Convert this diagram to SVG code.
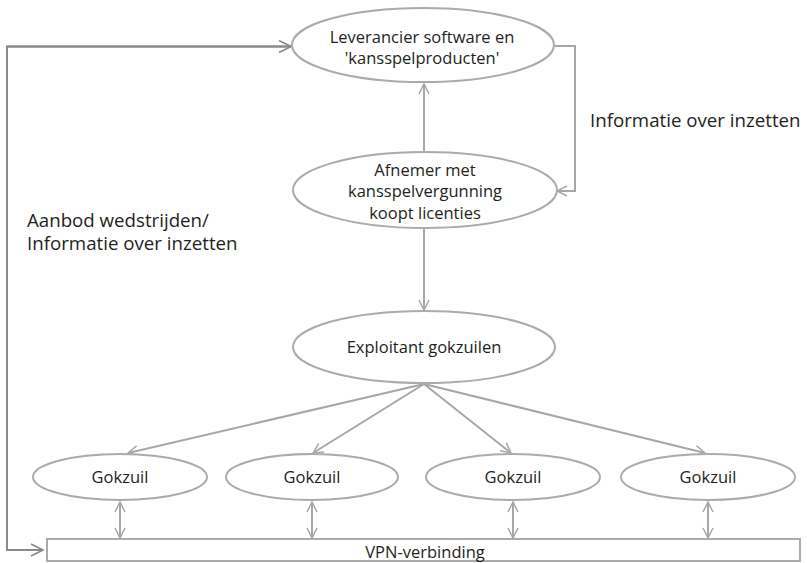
<svg xmlns="http://www.w3.org/2000/svg" width="807" height="563" viewBox="0 0 807 563">
<defs>
<marker id="ah" viewBox="0 0 12 12" refX="11" refY="6" markerWidth="12" markerHeight="12" markerUnits="userSpaceOnUse" orient="auto-start-reverse">
<path d="M1,1 L11,6 L1,11" fill="none" stroke="#a7a7a7" stroke-width="1.5"/>
</marker>
<marker id="ahd" viewBox="0 0 14 14" refX="13" refY="7" markerWidth="14" markerHeight="14" markerUnits="userSpaceOnUse" orient="auto">
<path d="M1,1 L13,7 L1,13" fill="none" stroke="#8a8a8a" stroke-width="1.6"/>
</marker>
</defs>
<style>
.n{fill:#fff;stroke:#ababab;stroke-width:2}
.t{font-family:"Open Sans","Liberation Sans",sans-serif;font-size:16.5px;fill:#231f20;text-anchor:middle}
.l{font-family:"Open Sans","Liberation Sans",sans-serif;font-size:18.7px;fill:#231f20}
.c{fill:none;stroke:#a7a7a7;stroke-width:2}
.cd{fill:none;stroke:#8a8a8a;stroke-width:2}
</style>
<rect width="807" height="563" fill="#fff"/>
<g id="connectors">
<path class="cd" d="M291,46.5 L7,46.5 L7,550 L43,550" marker-end="url(#ahd)"/>
<path class="cd" d="M7,46.5 L291,46.5" marker-end="url(#ahd)"/>
<path class="c" d="M555,46 L575,46 L575,191 L557,191" marker-end="url(#ah)"/>
<path class="c" d="M424,152 L424,84" marker-end="url(#ah)"/>
<path class="c" d="M424,228 L424,310" marker-end="url(#ah)"/>
<path class="c" d="M424,384 L128,453" marker-end="url(#ah)"/>
<path class="c" d="M424,384 L313,453" marker-end="url(#ah)"/>
<path class="c" d="M424,384 L511,453" marker-end="url(#ah)"/>
<path class="c" d="M424,384 L705,453" marker-end="url(#ah)"/>
<path class="c" d="M120,502 L120,538" marker-start="url(#ah)" marker-end="url(#ah)"/>
<path class="c" d="M312,502 L312,538" marker-start="url(#ah)" marker-end="url(#ah)"/>
<path class="c" d="M513,502 L513,538" marker-start="url(#ah)" marker-end="url(#ah)"/>
<path class="c" d="M708,502 L708,538" marker-start="url(#ah)" marker-end="url(#ah)"/>
</g>
<g id="leverancier">
<ellipse class="n" cx="423" cy="45" rx="131" ry="37"/>
<text class="t" x="422" y="42.5">Leverancier software en</text>
<text class="t" x="422" y="63.5">'kansspelproducten'</text>
</g>
<g id="afnemer">
<ellipse class="n" cx="425" cy="190" rx="132" ry="38"/>
<text class="t" x="425" y="175.5">Afnemer met</text>
<text class="t" x="425" y="197">kansspelvergunning</text>
<text class="t" x="425" y="219">koopt licenties</text>
</g>
<g id="exploitant">
<ellipse class="n" cx="424" cy="347" rx="131" ry="36"/>
<text class="t" x="424" y="353">Exploitant gokzuilen</text>
</g>
<g id="gokzuil1">
<ellipse class="n" cx="120" cy="477" rx="87" ry="23"/>
<text class="t" x="120" y="483">Gokzuil</text>
</g>
<g id="gokzuil2">
<ellipse class="n" cx="312" cy="477" rx="86" ry="23"/>
<text class="t" x="312" y="483">Gokzuil</text>
</g>
<g id="gokzuil3">
<ellipse class="n" cx="513" cy="477" rx="87" ry="23"/>
<text class="t" x="513" y="483">Gokzuil</text>
</g>
<g id="gokzuil4">
<ellipse class="n" cx="708" cy="477" rx="87" ry="23"/>
<text class="t" x="708" y="483">Gokzuil</text>
</g>
<g id="vpn">
<rect x="47" y="539" width="753" height="22" fill="#fff" stroke="#ababab" stroke-width="2"/>
<text class="t" x="425" y="557.5">VPN-verbinding</text>
</g>
<g id="labels">
<text class="l" x="590" y="126.5">Informatie over inzetten</text>
<text class="l" x="27" y="226.5">Aanbod wedstrijden/</text>
<text class="l" x="27" y="250">Informatie over inzetten</text>
</g>
</svg>
